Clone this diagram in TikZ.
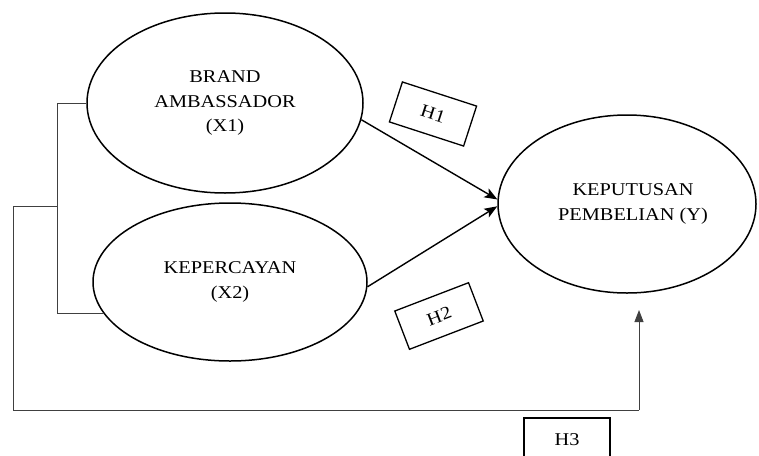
\documentclass[tikz,border=0pt]{standalone}
\usepackage{fontspec}
\setmainfont[FakeStretch=1.13]{Liberation Serif}
\usetikzlibrary{shapes.geometric,arrows.meta,calc}
\begin{document}
\begin{tikzpicture}[x=1pt,y=-1pt,
  latent/.style={draw=black,line width=1.5pt,ellipse,inner sep=0pt,align=center,
    font=\fontsize{18}{24.5}\selectfont},
  hbox/.style={draw=black,line width=1.3pt,inner sep=0pt,font=\fontsize{18}{22}\selectfont},
  thin/.style={draw=black!75,line width=0.9pt},
  path/.style={draw=black,line width=1.4pt,-{Stealth[length=13pt,width=10pt,inset=3pt]}}]
\useasboundingbox (0,0) rectangle (759,455);
\node[latent,minimum width=276pt,minimum height=180pt] (x1) at (225,103)
  {BRAND\\AMBASSADOR\\(X1)};
\node[latent,minimum width=274pt,minimum height=158pt] (x2) at (230,282)
  {KEPERCAYAN\\(X2)};
\node[latent,minimum width=258pt,minimum height=178pt] (y) at (627,204)
  {\hspace*{12pt}KEPUTUSAN\\\hspace*{12pt}PEMBELIAN (Y)};
\node[hbox,minimum width=78pt,minimum height=42pt,rotate=-18] (h1) at (433,114) {H1};
\node[hbox,minimum width=79pt,minimum height=41pt,rotate=21] (h2) at (439,316) {H2};
\node[hbox,minimum width=86pt,minimum height=44pt] (h3) at (567,440) {H3};
\coordinate (b) at (57,206);
\coordinate (o) at (13,410);
\coordinate (h3tip) at (639,310);
\draw[thin] (x1.west) -- (x1.west -| b) -- (x2.194 -| b) -- (x2.194);
\draw[thin] (b) -- (b -| o) -- (o) -- (o -| h3tip);
\draw[thin,-{Triangle[length=12pt,width=9pt]}] (o -| h3tip) -- (h3tip);
\draw[path] (x1.-7) -- (y.178.5);
\draw[path] (x2.-2) -- (y.181.5);
\end{tikzpicture}
\end{document}
